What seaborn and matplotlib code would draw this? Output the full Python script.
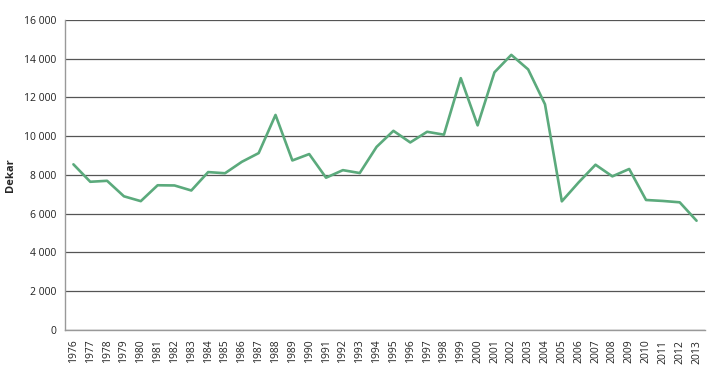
import numpy as np
import pandas as pd

import matplotlib
matplotlib.use('Agg')

import matplotlib.pyplot as plt
from matplotlib.ticker import FixedLocator, FuncFormatter

import seaborn as sns

years = list(range(1976, 2014))
dekar = [8550, 7650, 7700, 6900, 6650, 7470, 7460, 7200, 8150, 8090,
         8680, 9130, 11100, 8750, 9080, 7860, 8250, 8100, 9450, 10280,
         9680, 10230, 10080, 13000, 10560, 13300, 14200, 13450, 11650, 6640,
         7620, 8530, 7930, 8310, 6710, 6660, 6590, 5640]
y_ticks = [0, 2000, 4000, 6000, 8000, 10000, 12000, 14000, 16000]

df = pd.DataFrame({'Year': years, 'Dekar': dekar})

sns.set_style('white')
plt.rcParams['font.family'] = ['Open Sans', 'DejaVu Sans']

fig = plt.figure(figsize=(7.19, 3.83), dpi=100)
ax = fig.add_axes([0.0904, 0.1384, 0.8901, 0.8094])

sns.lineplot(data=df, x='Year', y='Dekar', ax=ax, color='#5BAA7C', linewidth=1.9)

ax.set_xlim(years[0] - 0.5, years[-1] + 0.5)
ax.set_ylim(0, 16000)
ax.set_yticks(y_ticks)
ax.yaxis.set_major_formatter(FuncFormatter(lambda v, p: f'{int(v):,}'.replace(',', ' ')))
ax.grid(axis='y', color='#555555', linewidth=0.9)
ax.set_axisbelow(True)

ax.set_xticks(years)
ax.set_xticklabels([str(y) for y in years], rotation=90)
ax.xaxis.set_minor_locator(FixedLocator([y - 0.5 for y in years] + [years[-1] + 0.5]))
ax.tick_params(axis='x', which='major', length=0, labelsize=7.5, colors='#222222', pad=7)
ax.tick_params(axis='x', which='minor', length=6, direction='inout', color='#888888', width=0.9)
ax.tick_params(axis='y', which='major', length=5, direction='in', labelsize=7.5, colors='#222222', color='#888888', pad=6)

for side in ['top', 'right']:
    ax.spines[side].set_visible(False)
for side in ['left', 'bottom']:
    ax.spines[side].set_color('#999999')
    ax.spines[side].set_linewidth(1.0)

ax.set_xlabel('')
ax.set_ylabel('Dekar', fontsize=8, fontweight='bold', labelpad=6)

plt.savefig('out.png', dpi=100)
